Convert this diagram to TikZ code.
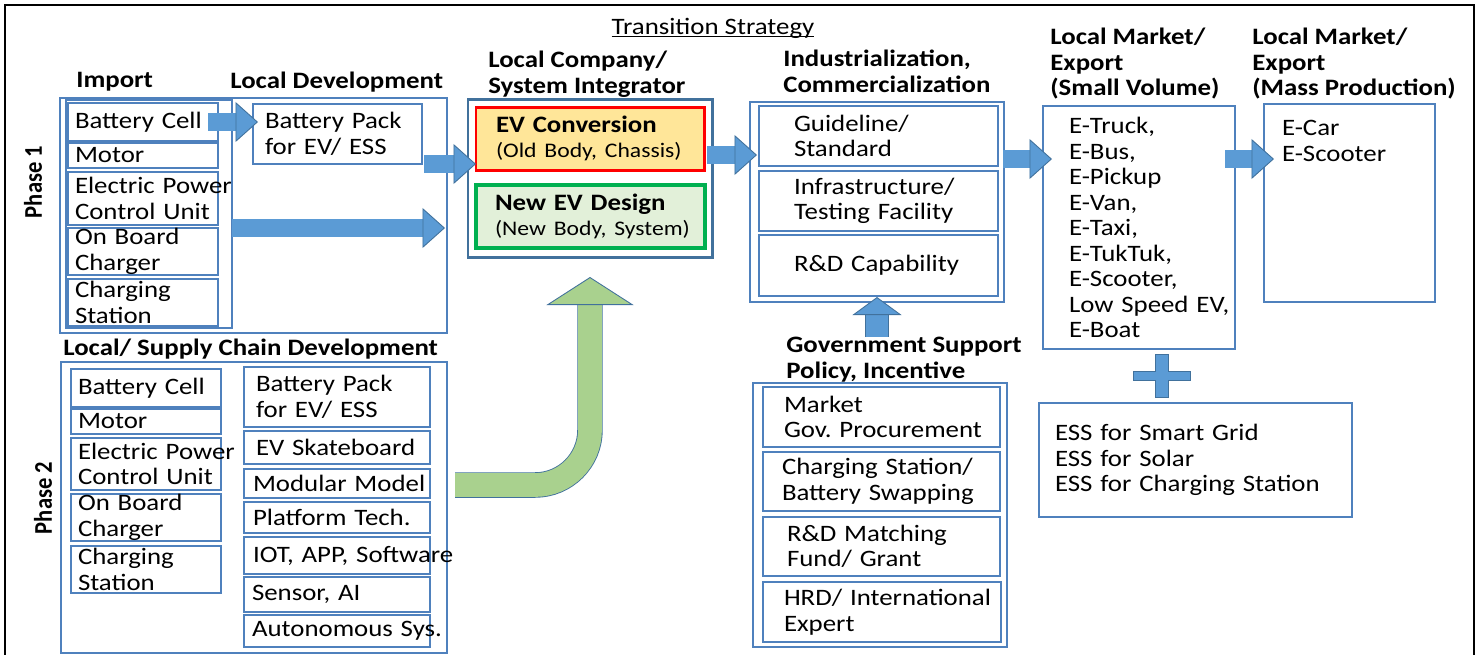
\documentclass[tikz,border=0pt]{standalone}
\usepackage{fontspec}
\setmainfont{Carlito}[FakeStretch=1.14]
\newfontfamily\phasefont{Carlito}[FakeStretch=0.885]
\usepackage{tikz}
\usetikzlibrary{positioning,arrows.meta,fit}

\definecolor{boxline}{RGB}{79,129,189}
\definecolor{arrfill}{RGB}{91,155,213}
\definecolor{arrline}{RGB}{65,113,156}
\definecolor{convfill}{RGB}{255,230,153}
\definecolor{newfill}{RGB}{226,240,217}
\definecolor{newline}{RGB}{0,176,80}
\definecolor{upfill}{RGB}{169,209,142}

\newcommand{\lbl}{\fontsize{13.4}{14.5}\selectfont\frenchspacing\hyphenpenalty=10000\exhyphenpenalty=10000}

\tikzset{
	cell/.code n args={3}{%
		\pgfmathsetlengthmacro\cellw{(#1-2*#3)*0.02cm}%
		\tikzset{draw=boxline, line width=0.9pt, anchor=north west, align=left,
			outer sep=0pt, inner ysep=0pt, inner xsep=#3*0.02cm,
			minimum width=#1*0.02cm, minimum height=#2*0.02cm,
			text width/.expanded=\cellw, font=\lbl}},
	group/.style={draw=boxline, line width=0.9pt, inner sep=0pt, outer sep=0pt},
	head/.style={font=\lbl\bfseries, align=left, anchor=north west, inner sep=0pt},
	phase/.style={font={\phasefont\fontsize{14.5}{16}\selectfont\bfseries}, rotate=90},
	fatarrow/.style={draw=arrfill, line width=9.7pt,
		-{Triangle[length=0.45cm, width=0.8cm, fill=arrfill, color=arrline, line width=0.5pt]},
		preaction={draw=arrline, line width=10.7pt, -, shorten >=0.43cm}},
	govarrow/.style={draw=arrfill, line width=12.5pt,
		-{Triangle[length=0.36cm, width=0.98cm, fill=arrfill, color=arrline, line width=0.5pt]},
		preaction={draw=arrline, line width=13.5pt, -, shorten >=0.34cm}},
	growarrow/.style={draw=upfill, line width=13.5pt, rounded corners=1.1cm,
		-{Triangle[length=0.56cm, width=1.74cm, fill=upfill, color=arrline, line width=0.5pt]},
		preaction={draw=arrline, line width=14.5pt, -, shorten >=0.54cm}},
}

\begin{document}
\begin{tikzpicture}[x=0.02cm, y=-0.02cm]
	\useasboundingbox (0,0) rectangle (1481,654);
	\draw[line width=1.4pt] (5,670) |- (1474,5) -- (1474,670);
	\node[font=\lbl, inner sep=0pt, anchor=base] (title) at (713,34) {\underline{\smash{Transition Strategy}}};
	%
	% phase 1
	\node[phase] (ph1) at (33,182) {Phase 1};
	\node[head] (himp) at (76,72) {Import};
	\node[head] (hld) at (230,72) {Local Development};
	\node[group, fit={(60,98) (447,333)}] (p1) {};
	\node[group, fit={(66,100) (232,328)}] (imp) {};
	\node[cell={150}{38}{7}] (icell) at (68,103) {Battery Cell};
	\node[cell={150}{25}{7}, below right=0.04cm and 0cm of icell.south west] (imotor) {Motor};
	\node[cell={150}{53}{7}, below right=0.08cm and 0cm of imotor.south west] (iepcu) {Electric~Power\\Control Unit};
	\node[cell={150}{47}{7}, below right=0.06cm and 0cm of iepcu.south west] (iobc) {On Board\\Charger};
	\node[cell={150}{47}{7}, below right=0.08cm and 0cm of iobc.south west] (ics) {Charging\\Station};
	\node[cell={169}{60}{12}] (ldpack) at (253,104) {Battery Pack\\for EV/ ESS};
	%
	% phase 2
	\node[phase] (ph2) at (43,498) {Phase 2};
	\node[head] (hsup) at (63,339) {Local/ Supply Chain Development};
	\node[group, fit={(61,362) (447,653)}] (p2) {};
	\node[cell={150}{38}{7}] (cell2) at (71,369) {Battery Cell};
	\node[cell={150}{25}{7}, below right=0.04cm and 0cm of cell2.south west] (motor2) {Motor};
	\node[cell={150}{52}{7}, below right=0.08cm and 0cm of motor2.south west] (epcu2) {Electric~Power\\Control Unit};
	\node[cell={150}{47}{7}, below right=0.08cm and 0cm of epcu2.south west] (obc2) {On Board\\Charger};
	\node[cell={150}{47}{7}, below right=0.1cm and 0cm of obc2.south west] (cs2) {Charging\\Station};
	\node[cell={186}{60}{12}] (pack2) at (244,367) {Battery Pack\\for EV/ ESS};
	\node[cell={186}{33}{12}, below right=0.08cm and 0cm of pack2.south west] (skate) {EV Skateboard};
	\node[cell={186}{29}{9}, below right=0.1cm and 0cm of skate.south west] (modular) {Modular~Model};
	\node[cell={186}{31}{9}, below right=0.08cm and 0cm of modular.south west] (platform) {Platform Tech.};
	\node[cell={186}{37}{9}, below right=0.08cm and 0cm of platform.south west] (iot) {IOT,~APP,~Software};
	\node[cell={186}{35}{8}, below right=0.06cm and 0cm of iot.south west] (sensor) {Sensor, AI};
	\node[cell={186}{32}{8}, below right=0.06cm and 0cm of sensor.south west] (auto) {Autonomous~Sys.};
	%
	% system integrator
	\node[head] (hsys) at (488,51) {Local Company/\\System Integrator};
	\node[group, fit={(468,99) (712,257)}, draw=arrline, line width=1.7pt] (sys) {};
	\node[cell={228}{63}{20}, draw=red, line width=1.7pt, fill=convfill] (conv) at (476,107)
		{{\bfseries EV~Conversion}\\{\fontsize{11.8}{14}\selectfont (Old~Body,~Chassis)}};
	\node[cell={229}{63}{19}, draw=newline, line width=2.2pt, fill=newfill] (newev) at (476,185)
		{{\bfseries New~EV~Design}\\{\fontsize{11.8}{14}\selectfont (New~Body,~System)}};
	%
	% industrialization
	\node[head] (hind) at (783,50) {Industrialization,\\Commercialization};
	\node[group, fit={(750,102) (1004,302)}] (ind) {};
	\node[cell={239}{60}{35}] (guide) at (759,106) {Guideline/\\Standard};
	\node[cell={239}{60}{35}, below right=0.1cm and 0cm of guide.south west] (infra) {Infrastructure/\\Testing~Facility};
	\node[cell={239}{61}{35}, below right=0.08cm and 0cm of infra.south west] (rdcap) {R\&D~Capability};
	%
	% government
	\node[head] (hgov) at (786,337) {Government Support\\Policy, Incentive};
	\node[group, fit={(753,383) (1007,647)}] (gov) {};
	\node[cell={237}{60}{21}] (market) at (763,387) {Market\\Gov.~Procurement};
	\node[cell={237}{59}{19}, below right=0.1cm and 0cm of market.south west] (charge) {Charging~Station/\\Battery~Swapping};
	\node[cell={237}{59}{24}, below right=0.12cm and 0cm of charge.south west] (rdm) {R\&D~Matching\\Fund/~Grant};
	\node[cell={238}{60}{21}, below right=0.12cm and 0cm of rdm.south west] (hrd) {HRD/~International\\Expert};
	%
	% markets
	\node[head] (hsv) at (1050,28) {Local Market/\\Export\\(Small Volume)};
	\node[head] (hmass) at (1252,28) {Local Market/\\Export\\(Mass Production)};
	\node[cell={192}{243}{26}] (sv) at (1043,106)
		{E-Truck,\\E-Bus,\\E-Pickup\\E-Van,\\E-Taxi,\\E-TukTuk,\\E-Scooter,\\Low~Speed~EV,\\E-Boat};
	\node[cell={171}{198}{18}, text depth=3cm] (mass) at (1264,104) {E-Car\\E-Scooter};
	\node[cell={313}{114}{16}] (ess) at (1039,403) {ESS for Smart Grid\\ESS for Solar\\ESS~for~Charging~Station};
	\filldraw[fill=arrfill, draw=arrline, line width=0.5pt] (1155,354) -- (1168,354) -- (1168,371) -- (1190,371)
		-- (1190,380) -- (1168,380) -- (1168,397) -- (1155,397) -- (1155,380) -- (1133,380) -- (1133,371) -- (1155,371) -- cycle;
	%
	\coordinate (upper) at (0,155);
	\coordinate (mid) at (0,159);
	\coordinate (bend) at (0,485);
	\draw[fatarrow] ([xshift=-0.2cm]icell.east) -- ([xshift=0.1cm]ldpack.west |- icell.east);
	\draw[fatarrow] ([xshift=0.04cm]ldpack.south east) -- (conv.west |- ldpack.south east);
	\draw[fatarrow] (imp.east |- iobc.north) -- ([xshift=-0.04cm]p1.east |- iobc.north);
	\draw[fatarrow] ([xshift=-0.1cm]sys.east |- upper) -- ([xshift=0.14cm]ind.west |- upper);
	\draw[fatarrow] ([xshift=-0.02cm]ind.east |- mid) -- ([xshift=0.18cm]sv.west |- mid);
	\draw[fatarrow] ([xshift=-0.2cm]sv.east |- mid) -- ([xshift=0.2cm]mass.west |- mid);
	\draw[govarrow] (hgov.north -| ind.south) -- ([yshift=0.1cm]ind.south);
	\draw[growarrow] ([xshift=0.16cm]p2.east |- bend) -| ([yshift=-0.4cm]sys.south);
\end{tikzpicture}
\end{document}
